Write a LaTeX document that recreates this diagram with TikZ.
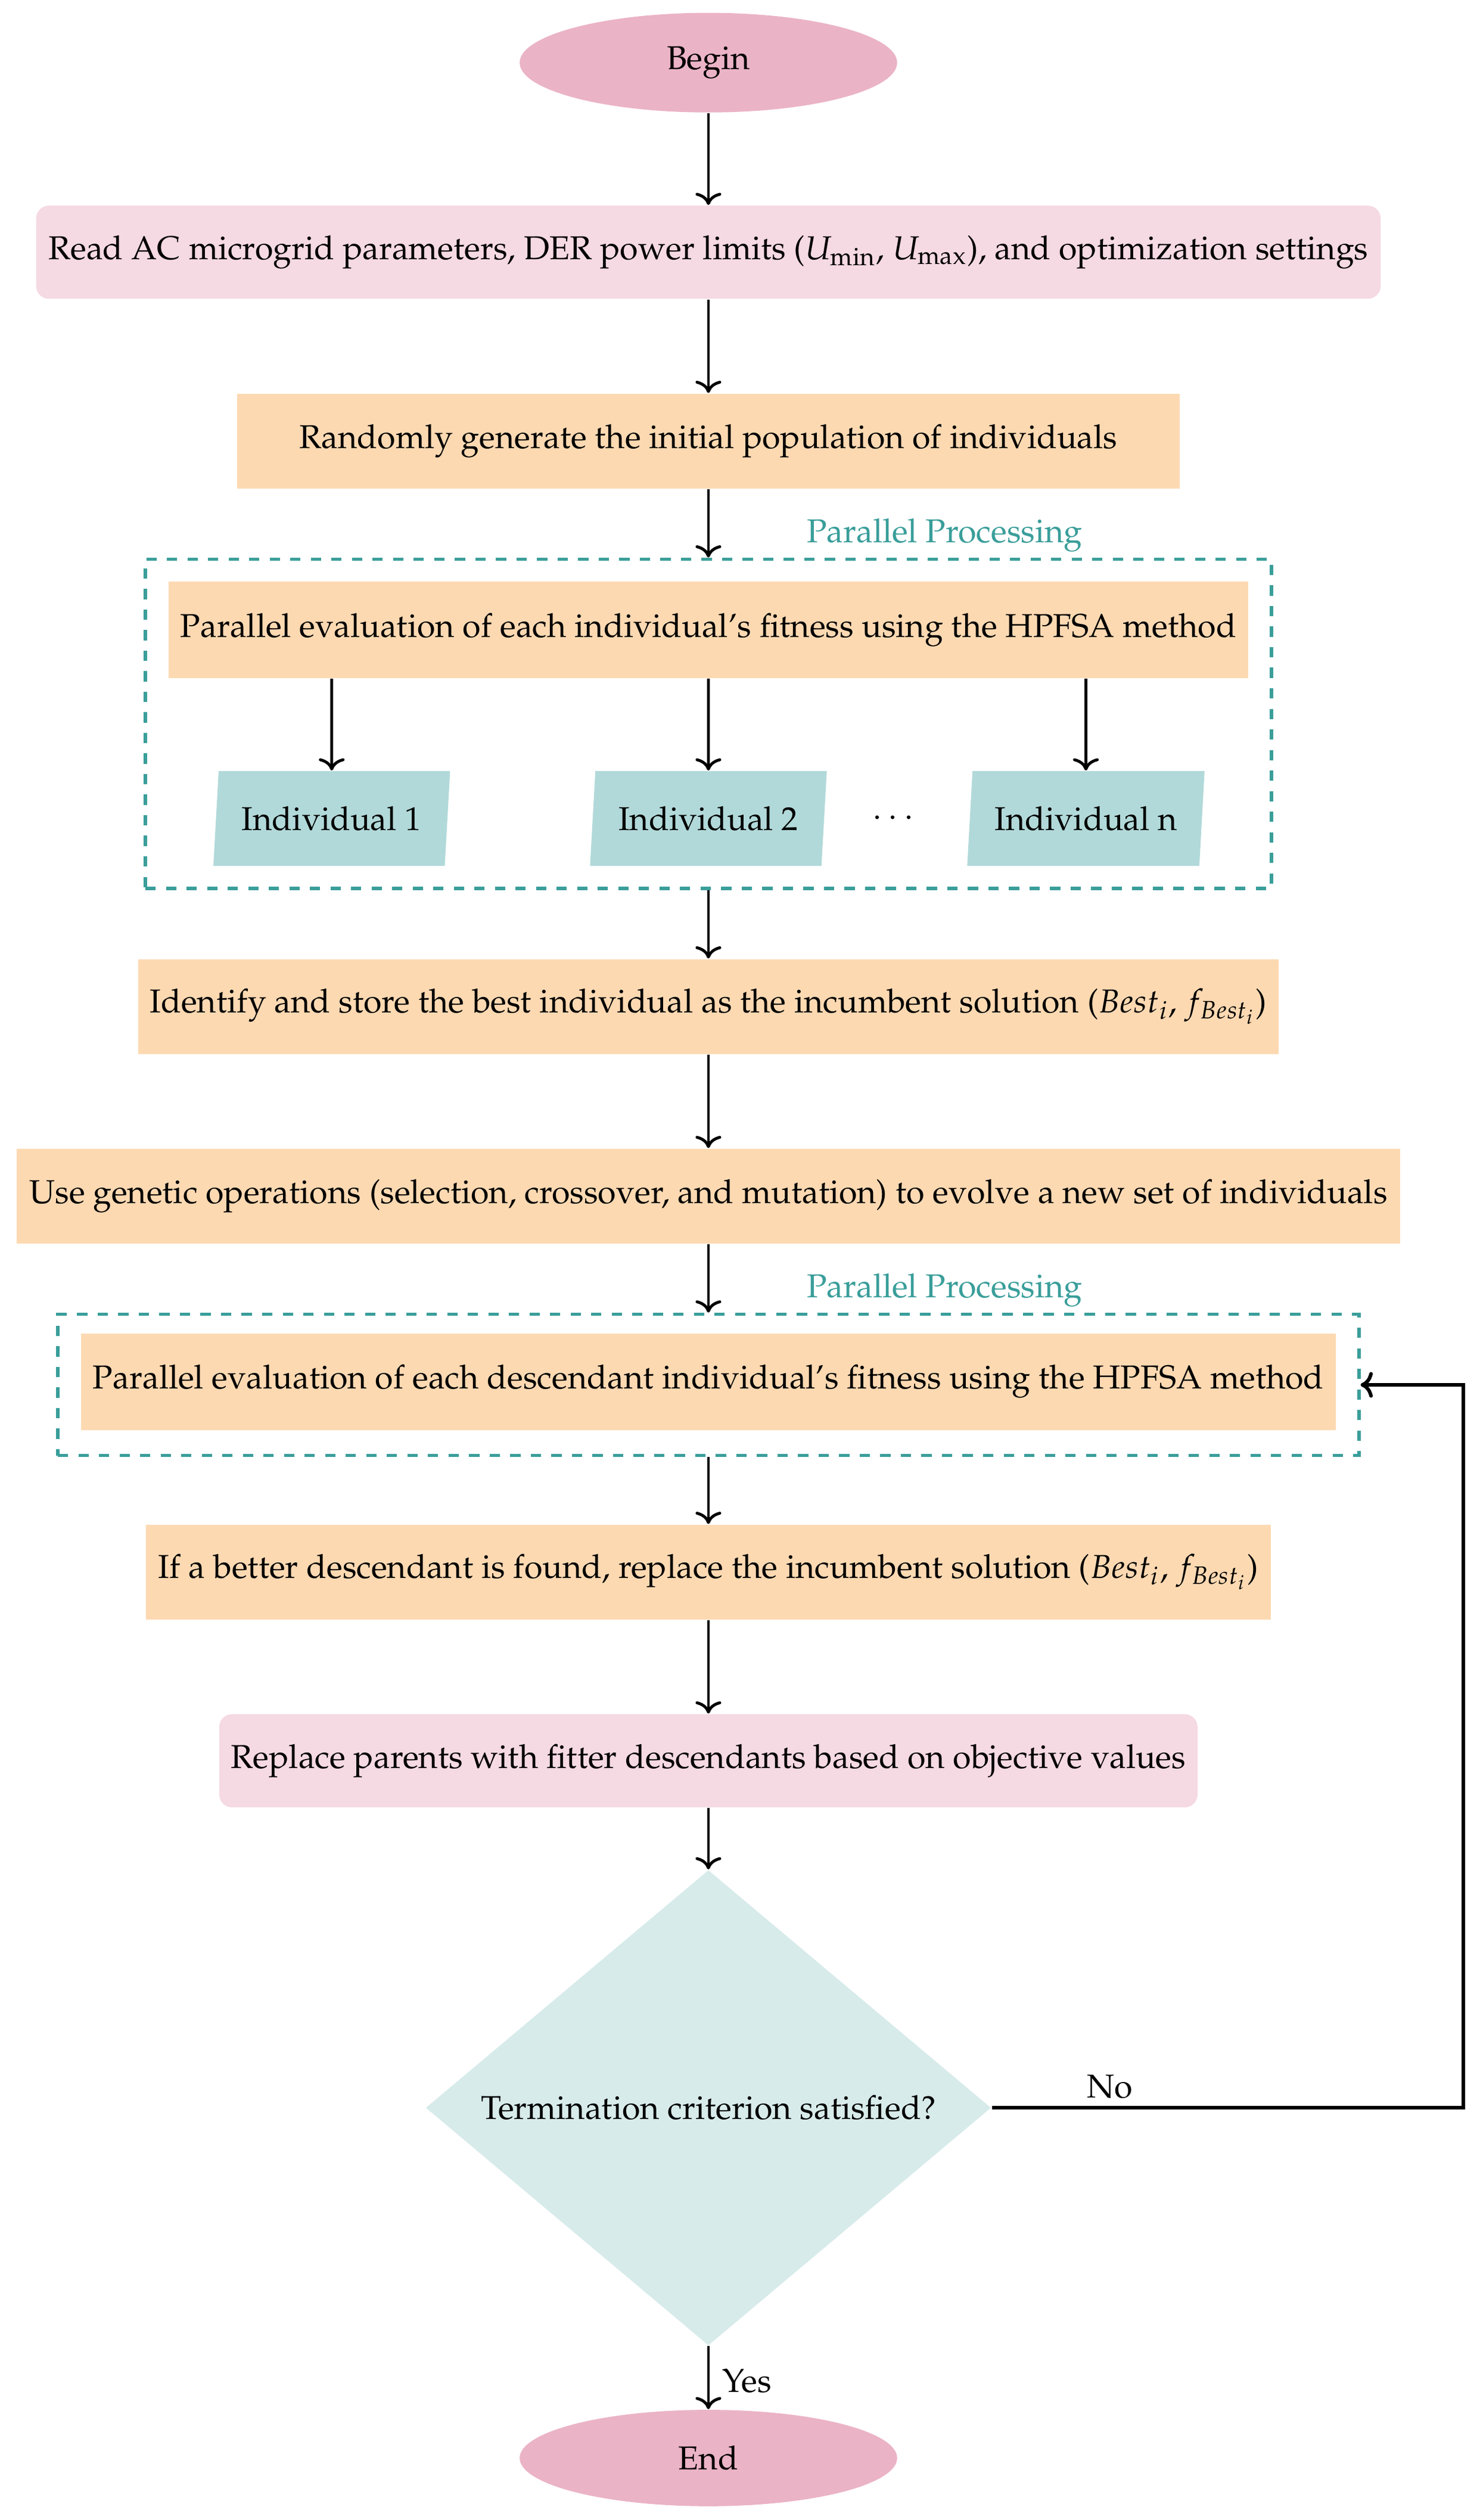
\documentclass[tikz,border=0pt]{standalone}
\usepackage[T1]{fontenc}
\usepackage{mathpazo}
\usetikzlibrary{shapes.geometric,arrows.meta}
\definecolor{ovalpink}{HTML}{EBB3C6}
\definecolor{lightpink}{HTML}{F5D9E3}
\definecolor{peach}{HTML}{FDD9B2}
\definecolor{indteal}{HTML}{B2D9D9}
\definecolor{diamteal}{HTML}{D7EBEA}
\definecolor{tealdash}{HTML}{3A9E9A}
\begin{document}
\begin{tikzpicture}[x=0.5pt,y=-0.5pt,
  every node/.style={font=\fontsize{10.3}{12.4}\selectfont, inner sep=0pt},
  oval/.style={ellipse, fill=ovalpink, minimum width=117.5pt, minimum height=31pt},
  rbox/.style={rectangle, rounded corners=4pt, fill=lightpink, minimum height=29pt},
  pbox/.style={rectangle, fill=peach, minimum height=29.5pt},
  indiv/.style={trapezium, trapezium left angle=80, trapezium right angle=100, trapezium stretches=true, fill=indteal, minimum width=74pt, minimum height=29.5pt},
  decision/.style={diamond, fill=diamteal, shape aspect=1.19, minimum width=176pt, minimum height=148pt},
  groupbox/.style={rectangle, draw=tealdash, line width=1pt, dash pattern=on 3.2pt off 3.2pt},
  arr/.style={-{To[length=3.8pt,width=8pt]}, line width=0.9pt},
  grouplabel/.style={text=tealdash}
]
\useasboundingbox (0,0) rectangle (921,1568.6);

\node[oval] (begin) at (441,39) {Begin};
\node[rbox, minimum width=418.5pt] (read) at (441,157) {Read AC microgrid parameters, DER power limits ($U_{\min}$, $U_{\max}$), and optimization settings};
\node[pbox, minimum width=293.5pt] (rand) at (441,274.5) {Randomly generate the initial population of individuals};

\node[grouplabel] (pl1) at (588,333) {Parallel Processing};
\node[groupbox, minimum width=350.5pt, minimum height=102.5pt] (grp1) at (441,450.5) {};
\node[pbox, minimum width=336pt, minimum height=30pt] (pe1) at (441,392) {Parallel evaluation of each individual's fitness using the HPFSA method};
\node[indiv] (ind1) at (206.5,509.5) {Individual 1};
\node[indiv] (ind2) at (441,509.5) {Individual 2};
\node[indiv] (indn) at (676,509.5) {Individual n};
\node (dots) at (556,509.5) {$\cdots$};

\node[pbox, minimum width=355pt] (ident) at (441,626.5) {Identify and store the best individual as the incumbent solution ($Best_i$, $f_{Best_i}$)};
\node[pbox, minimum width=430.5pt] (gen) at (441,744.5) {Use genetic operations (selection, crossover, and mutation) to evolve a new set of individuals};

\node[grouplabel] (pl2) at (588,803) {Parallel Processing};
\node[groupbox, minimum width=405pt, minimum height=44pt] (grp2) at (441,862) {};
\node[pbox, minimum width=390.5pt, minimum height=30pt] (pe2) at (441,860) {Parallel evaluation of each descendant individual's fitness using the HPFSA method};

\node[pbox, minimum width=350pt] (better) at (441,978.5) {If a better descendant is found, replace the incumbent solution ($Best_i$, $f_{Best_i}$)};
\node[rbox, minimum width=304.5pt] (repl) at (441,1096) {Replace parents with fitter descendants based on objective values};
\node[decision] (dec) at (441,1312) {Termination criterion satisfied?};
\node[oval, minimum height=30pt] (endn) at (441,1530) {End};

\coordinate (fb) at (911,1312);

\draw[arr] (begin) -- (read);
\draw[arr] (read) -- (rand);
\draw[arr] (rand) -- (grp1.north);
\draw[arr] (pe1.south -| ind1) -- (ind1.north);
\draw[arr] (pe1.south -| ind2) -- (ind2.north);
\draw[arr] (pe1.south -| indn) -- (indn.north);
\draw[arr] (grp1.south) -- (ident);
\draw[arr] (ident) -- (gen);
\draw[arr] (gen) -- (grp2.north);
\draw[arr] (grp2.south) -- (better);
\draw[arr] (better) -- (repl);
\draw[arr] (repl) -- (dec);
\draw[arr] (dec) -- (endn);
\node (yes) at (465,1482) {Yes};
\draw[arr, line width=1.1pt] (dec.east) -- (fb) |- (grp2.east);
\node (no) at (691,1299) {No};
\end{tikzpicture}
\end{document}
